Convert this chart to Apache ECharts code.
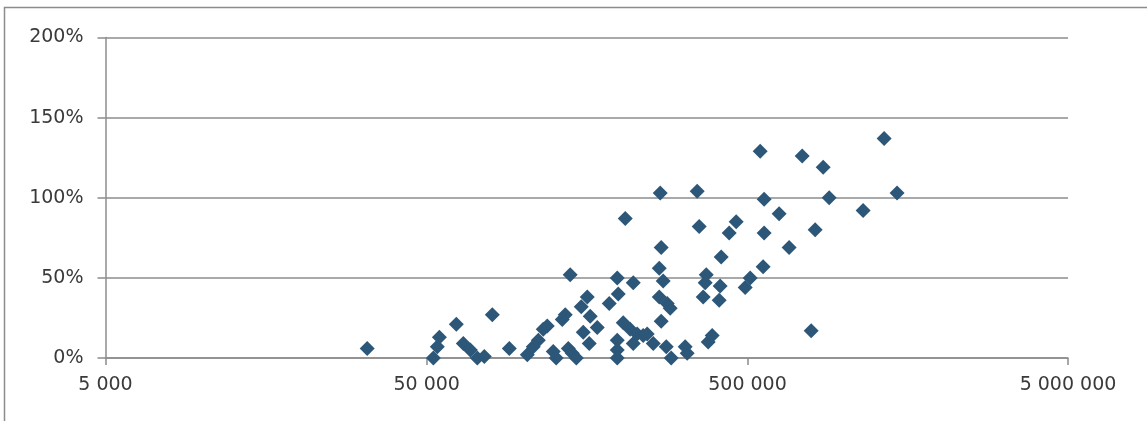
<!DOCTYPE html>
<html>
<head>
<meta charset="utf-8">
<script src="https://cdn.jsdelivr.net/npm/echarts@6/dist/echarts.min.js"></script>
<style>
html,body{margin:0;padding:0;background:#fff;}
#chart{width:1147px;height:421px;}
</style>
</head>
<body>
<div id="chart"></div>
<script>
// x values (log scale)
const xValues = [32700, 52600, 54100, 54900, 62000, 65200, 68600, 72100, 75800, 80300,
  90700, 103200, 107700, 111700, 115700, 119100, 124300, 127000, 132600, 135500,
  138500, 140400, 142500, 146700, 152000, 154200, 158700, 161000, 162100, 170500,
  185800, 196800, 198200, 196800, 196800, 196800, 205500, 208400, 216000, 220800,
  220800, 227100, 237100, 244000, 254800, 266000, 266000, 269800, 267900, 269800,
  273700, 279700, 281700, 287800, 289900, 320500, 325100, 349300, 354400, 364700,
  370000, 372700, 378000, 389000, 409000, 411900, 414900, 439500, 462100, 492900,
  511000, 549000, 560700, 564800, 564800, 629000, 675600, 742100, 791600, 814500,
  862700, 900700, 1149000, 1336000, 1466000];
// y values in percent
const yValues = [6, 0, 7, 13, 21, 9, 5, 0, 1, 27,
  6, 2, 7, 11, 18, 20, 4, 0, 24, 27,
  6, 52, 3, 0, 32, 16, 38, 9, 26, 19,
  34, 50, 40, 11, 5, 0, 22, 87, 18, 47,
  9, 15, 14, 15, 9, 38, 56, 69, 103, 23,
  48, 7, 34, 31, 0, 7, 3, 104, 82, 38,
  47, 52, 10, 14, 36, 45, 63, 78, 85, 44,
  50, 129, 57, 99, 78, 90, 69, 126, 17, 80,
  119, 100, 92, 137, 103];
const xTicks = [5000, 50000, 500000, 5000000];
const yTicks = [0, 50, 100, 150, 200];

const points = xValues.map((x, i) => [x, yValues[i]]);

function nearestTick(v) {
  let best = xTicks[0];
  for (const t of xTicks) {
    if (Math.abs(Math.log10(t) - Math.log10(v)) < Math.abs(Math.log10(best) - Math.log10(v))) best = t;
  }
  return best;
}
function fmtThousands(v) {
  const n = nearestTick(v);
  return String(n).replace(/\B(?=(\d{3})+(?!\d))/g, ' ');
}

const chart = echarts.init(document.getElementById('chart'), null, {renderer: 'canvas'});
const txt = {fontFamily: 'DejaVu Sans', fontSize: 19, color: '#3a3a3a'};
chart.setOption({
  animation: false,
  backgroundColor: '#fff',
  graphic: [{
    type: 'rect', silent: true,
    shape: {x: 4.5, y: 7.5, width: 1300, height: 500},
    style: {fill: 'none', stroke: '#8c8c8c', lineWidth: 1.5}
  }],
  grid: {left: 105.5, right: 79, top: 37.5, bottom: 63, containLabel: false},
  xAxis: {
    type: 'log', logBase: 10,
    min: xTicks[0], max: xTicks[xTicks.length - 1], interval: 1,
    axisLine: {show: true, lineStyle: {color: '#8c8c8c', width: 1.5}},
    axisTick: {show: true, length: 7, lineStyle: {color: '#8c8c8c', width: 1.5}},
    splitLine: {show: false},
    minorTick: {show: false},
    axisLabel: Object.assign({margin: 18, formatter: v => fmtThousands(v)}, txt)
  },
  yAxis: {
    type: 'value', min: yTicks[0], max: yTicks[yTicks.length - 1], interval: 50,
    axisLine: {show: true, lineStyle: {color: '#8c8c8c', width: 1.5}},
    axisTick: {show: true, length: 8, lineStyle: {color: '#8c8c8c', width: 1.5}},
    splitLine: {show: true, lineStyle: {color: '#8c8c8c', width: 1.5}},
    axisLabel: Object.assign({margin: 22, formatter: '{value}%'}, txt)
  },
  series: [{
    type: 'scatter',
    symbol: 'diamond',
    symbolSize: 15,
    itemStyle: {color: '#2d5779', opacity: 1},
    data: points
  }]
});
</script>
</body>
</html>
